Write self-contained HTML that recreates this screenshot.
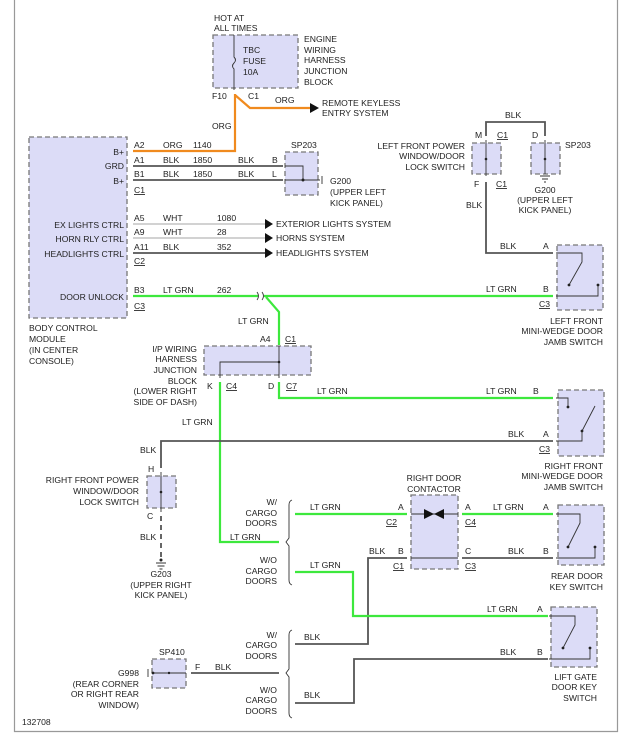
<!DOCTYPE html>
<html><head><meta charset="utf-8"><style>
html,body{margin:0;padding:0;background:#fff}
svg{display:block}
text{font-family:"Liberation Sans",sans-serif;font-size:8.6px;fill:#222}
.b{fill:#dcdcf7;stroke:#777;stroke-width:1.3;stroke-dasharray:5,3}
.g{stroke:#3de83d;stroke-width:2.2;fill:none}
.o{stroke:#f08a1e;stroke-width:2.2;fill:none}
.k{stroke:#555;stroke-width:1.8;fill:none}
.w{stroke:#ccc;stroke-width:1.8;fill:none}
.t{stroke:#333;stroke-width:0.9;fill:none}
.e{text-anchor:end}
.m{text-anchor:middle}
</style></head><body>
<svg width="619" height="744" viewBox="0 0 619 744">
<path d="M14.5 0V731.5H617.5V0" stroke="#999" stroke-width="1.2" fill="none"/>

<text x="214" y="21">HOT AT</text><text x="214" y="31">ALL TIMES</text>
<rect class="b" x="213" y="35" width="85" height="53"/>
<path class="t" d="M234 35V57q3 3 0 6q-3 3 0 6V90"/>
<text x="243" y="53">TBC</text><text x="243" y="64">FUSE</text><text x="243" y="75">10A</text>
<text x="304" y="42">ENGINE</text><text x="304" y="53">WIRING</text><text x="304" y="63">HARNESS</text><text x="304" y="74">JUNCTION</text><text x="304" y="85">BLOCK</text>
<text x="212" y="99">F10</text><text x="248" y="99">C1</text>
<path class="o" d="M235 94V151H133M235 95L250 108H310"/>
<path d="M310 103L319 108L310 113Z" fill="#111"/>
<text x="275" y="103">ORG</text>
<text x="322" y="106">REMOTE KEYLESS</text><text x="322" y="116">ENTRY SYSTEM</text>
<text x="212" y="129">ORG</text>

<rect class="b" x="29" y="137" width="98" height="181"/>
<text class="e" x="124" y="155">B+</text><text class="e" x="124" y="169">GRD</text><text class="e" x="124" y="184">B+</text>
<text class="e" x="124" y="228">EX LIGHTS CTRL</text><text class="e" x="124" y="242">HORN RLY CTRL</text><text class="e" x="124" y="257">HEADLIGHTS CTRL</text>
<text class="e" x="124" y="300">DOOR UNLOCK</text>
<text x="29" y="331">BODY CONTROL</text><text x="29" y="342">MODULE</text><text x="29" y="353">(IN CENTER</text><text x="29" y="364">CONSOLE)</text>

<text x="134" y="148">A2</text><text x="163" y="148">ORG</text><text x="193" y="148">1140</text>
<path class="k" d="M133 166H283M133 180H283"/>
<text x="134" y="163">A1</text><text x="163" y="163">BLK</text><text x="193" y="163">1850</text><text x="238" y="163">BLK</text><text x="272" y="163">B</text>
<text x="134" y="177">B1</text><text x="163" y="177">BLK</text><text x="193" y="177">1850</text><text x="238" y="177">BLK</text><text x="272" y="177">L</text>
<text x="134" y="193" text-decoration="underline">C1</text>
<rect class="b" x="285" y="152" width="33" height="43"/>
<path class="t" d="M285 166H303V180M285 180H320M322 176V184"/>
<circle cx="303" cy="180" r="1.5" fill="#222"/>
<text x="291" y="148">SP203</text>
<text x="330" y="184">G200</text><text x="330" y="195">(UPPER LEFT</text><text x="330" y="206">KICK PANEL)</text>

<path class="w" d="M133 224H265M133 238H265"/>
<path class="k" d="M133 253H265"/>
<path d="M265 219L273 224L265 229ZM265 233L273 238L265 243ZM265 248L273 253L265 258Z" fill="#111"/>
<text x="134" y="221">A5</text><text x="163" y="221">WHT</text><text x="217" y="221">1080</text><text x="276" y="227">EXTERIOR LIGHTS SYSTEM</text>
<text x="134" y="235">A9</text><text x="163" y="235">WHT</text><text x="217" y="235">28</text><text x="276" y="241">HORNS SYSTEM</text>
<text x="134" y="250">A11</text><text x="163" y="250">BLK</text><text x="217" y="250">352</text><text x="276" y="256">HEADLIGHTS SYSTEM</text>
<text x="134" y="264" text-decoration="underline">C2</text>

<path class="g" d="M133 296H258M264 296H553M266 297L279 312V345"/>
<path class="t" d="M257 292q3 4 0 8M262 292q3 4 0 8"/>
<text x="134" y="293">B3</text><text x="163" y="293">LT GRN</text><text x="217" y="293">262</text>
<text x="134" y="309" text-decoration="underline">C3</text>
<text x="238" y="324">LT GRN</text>

<text x="260" y="342">A4</text><text x="285" y="342" text-decoration="underline">C1</text>
<rect class="b" x="204" y="346" width="107" height="29"/>
<path class="t" d="M279 346V378M220 378V362H279"/>
<circle cx="279" cy="362" r="1.3" fill="#222"/>
<text class="e" x="197" y="352">I/P WIRING</text><text class="e" x="197" y="362">HARNESS</text><text class="e" x="197" y="373">JUNCTION</text><text class="e" x="197" y="384">BLOCK</text>
<text class="e" x="197" y="394">(LOWER RIGHT</text><text class="e" x="197" y="405">SIDE OF DASH)</text>
<text x="207" y="389">K</text><text x="226" y="389" text-decoration="underline">C4</text>
<text x="268" y="389">D</text><text x="286" y="389" text-decoration="underline">C7</text>
<path class="g" d="M279 382V398H553M220 382V542H279"/>
<text x="317" y="394">LT GRN</text><text x="486" y="394">LT GRN</text><text x="533" y="394">B</text>
<text x="182" y="425">LT GRN</text>

<path class="k" d="M486 136V122H545V136M486 182V253H553"/>
<text x="505" y="118">BLK</text>
<text x="475" y="138">M</text><text x="497" y="138" text-decoration="underline">C1</text>
<text x="532" y="138">D</text>
<rect class="b" x="472" y="143" width="29" height="31"/>
<path class="t" d="M486 140V176"/><circle cx="486" cy="159" r="1.3" fill="#222"/>
<rect class="b" x="531" y="143" width="29" height="31"/>
<path class="t" d="M545 140V174"/><circle cx="545" cy="159" r="1.3" fill="#222"/><path class="t" d="M540 176H550M542 179H548M544 182H546"/>
<text x="565" y="148">SP203</text>
<text class="e" x="465" y="149">LEFT FRONT POWER</text><text class="e" x="465" y="159">WINDOW/DOOR</text><text class="e" x="465" y="170">LOCK SWITCH</text>
<text x="474" y="187">F</text><text x="496" y="187" text-decoration="underline">C1</text>
<text x="466" y="208">BLK</text>
<text class="m" x="545" y="193">G200</text><text class="m" x="545" y="203">(UPPER LEFT</text><text class="m" x="545" y="213">KICK PANEL)</text>
<text x="500" y="249">BLK</text><text x="543" y="249">A</text><text x="486" y="292">LT GRN</text><text x="543" y="292">B</text>
<text x="539" y="307" text-decoration="underline">C3</text>
<rect class="b" x="557" y="245" width="46" height="65"/>
<path class="t" d="M556 253H582V262L569 285M598 285V296H556"/>
<circle cx="569" cy="285" r="1.4" fill="#222"/><circle cx="598" cy="285" r="1.4" fill="#222"/>
<text class="e" x="603" y="324">LEFT FRONT</text><text class="e" x="603" y="334">MINI-WEDGE DOOR</text><text class="e" x="603" y="345">JAMB SWITCH</text>

<rect class="b" x="558" y="390" width="46" height="66"/>
<path class="t" d="M556 398H568V407M595 406L582 431M582 431V441H556"/>
<circle cx="568" cy="407" r="1.4" fill="#222"/><circle cx="582" cy="431" r="1.4" fill="#222"/>
<path class="k" d="M553 441H161V468"/>
<text x="508" y="437">BLK</text><text x="543" y="437">A</text><text x="539" y="452" text-decoration="underline">C3</text>
<text class="e" x="603" y="469">RIGHT FRONT</text><text class="e" x="603" y="479">MINI-WEDGE DOOR</text><text class="e" x="603" y="490">JAMB SWITCH</text>
<text x="140" y="453">BLK</text>

<text x="148" y="472">H</text>
<rect class="b" x="147" y="476" width="29" height="32"/>
<path class="t" d="M161 472V512"/><circle cx="161" cy="492" r="1.3" fill="#222"/>
<text class="e" x="139" y="483">RIGHT FRONT POWER</text><text class="e" x="139" y="494">WINDOW/DOOR</text><text class="e" x="139" y="505">LOCK SWITCH</text>
<text x="147" y="519">C</text>
<path class="k" stroke-dasharray="5,4" d="M161 516V558"/>
<text x="140" y="540">BLK</text>
<circle cx="161" cy="560" r="1.5" fill="#222"/><path class="t" d="M156 563H166M157.5 566H164.5M159.5 569H162.5"/>
<text class="m" x="161" y="577">G203</text><text class="m" x="161" y="588">(UPPER RIGHT</text><text class="m" x="161" y="598">KICK PANEL)</text>

<text class="e" x="277" y="505">W/</text><text class="e" x="277" y="516">CARGO</text><text class="e" x="277" y="526">DOORS</text>
<text class="e" x="277" y="563">W/O</text><text class="e" x="277" y="574">CARGO</text><text class="e" x="277" y="584">DOORS</text>
<text class="e" x="277" y="638">W/</text><text class="e" x="277" y="648">CARGO</text><text class="e" x="277" y="659">DOORS</text>
<text class="e" x="277" y="693">W/O</text><text class="e" x="277" y="703">CARGO</text><text class="e" x="277" y="714">DOORS</text>
<path class="t" stroke="#999" d="M292 500q-3 1-3 5V538l-3 4 3 4V580q0 4 3 5M292 630q-3 1-3 5V669l-3 4 3 4V713q0 4 3 5"/>
<text x="230" y="540">LT GRN</text>

<text class="m" x="434" y="481">RIGHT DOOR</text><text class="m" x="434" y="492">CONTACTOR</text>
<rect class="b" x="411" y="495" width="47" height="74"/>
<path class="t" d="M411 514H458M411 558H458"/>
<path d="M424 509L434 514L424 519ZM444 509L434 514L444 519Z" fill="#111"/>
<path class="g" d="M295 514H407M462 514H553"/>
<text x="310" y="510">LT GRN</text><text x="398" y="510">A</text><text x="386" y="525" text-decoration="underline">C2</text>
<text x="465" y="510">A</text><text x="465" y="525" text-decoration="underline">C4</text>
<text x="493" y="510">LT GRN</text><text x="543" y="510">A</text>
<path class="k" d="M407 558H368V644H295M462 558H553"/>
<text x="369" y="554">BLK</text><text x="398" y="554">B</text><text x="393" y="569" text-decoration="underline">C1</text>
<text x="465" y="554">C</text><text x="465" y="569" text-decoration="underline">C3</text>
<text x="508" y="554">BLK</text><text x="543" y="554">B</text>
<rect class="b" x="558" y="505" width="46" height="60"/>
<path class="t" d="M556 514H580V523L568 547M595 547V558H556"/>
<circle cx="568" cy="547" r="1.4" fill="#222"/><circle cx="595" cy="547" r="1.4" fill="#222"/>
<text class="e" x="603" y="579">REAR DOOR</text><text class="e" x="603" y="590">KEY SWITCH</text>

<path class="g" d="M295 572H353V616H548"/>
<text x="310" y="568">LT GRN</text>
<text x="487" y="612">LT GRN</text><text x="537" y="612">A</text>
<rect class="b" x="551" y="607" width="46" height="60"/>
<path class="t" d="M549 616H575V625L563 648M590 648V659H549"/>
<circle cx="563" cy="648" r="1.4" fill="#222"/><circle cx="590" cy="648" r="1.4" fill="#222"/>
<path class="k" d="M548 659H354V703H295"/>
<text x="500" y="655">BLK</text><text x="537" y="655">B</text>
<text class="e" x="597" y="680">LIFT GATE</text><text class="e" x="597" y="690">DOOR KEY</text><text class="e" x="597" y="701">SWITCH</text>
<text x="304" y="640">BLK</text><text x="304" y="698">BLK</text>

<text x="159" y="655">SP410</text>
<rect class="b" x="152" y="659" width="34" height="29"/>
<path class="t" d="M148 669V677M152 673H186"/><circle cx="153" cy="673" r="1.4" fill="#222"/><circle cx="169" cy="673" r="1.2" fill="#222"/>
<path class="k" d="M191 673H279"/>
<text x="195" y="670">F</text><text x="215" y="670">BLK</text>
<text class="e" x="139" y="676">G998</text><text class="e" x="139" y="687">(REAR CORNER</text><text class="e" x="139" y="697">OR RIGHT REAR</text><text class="e" x="139" y="708">WINDOW)</text>
<text x="22" y="725">132708</text>
</svg>
</body></html>
